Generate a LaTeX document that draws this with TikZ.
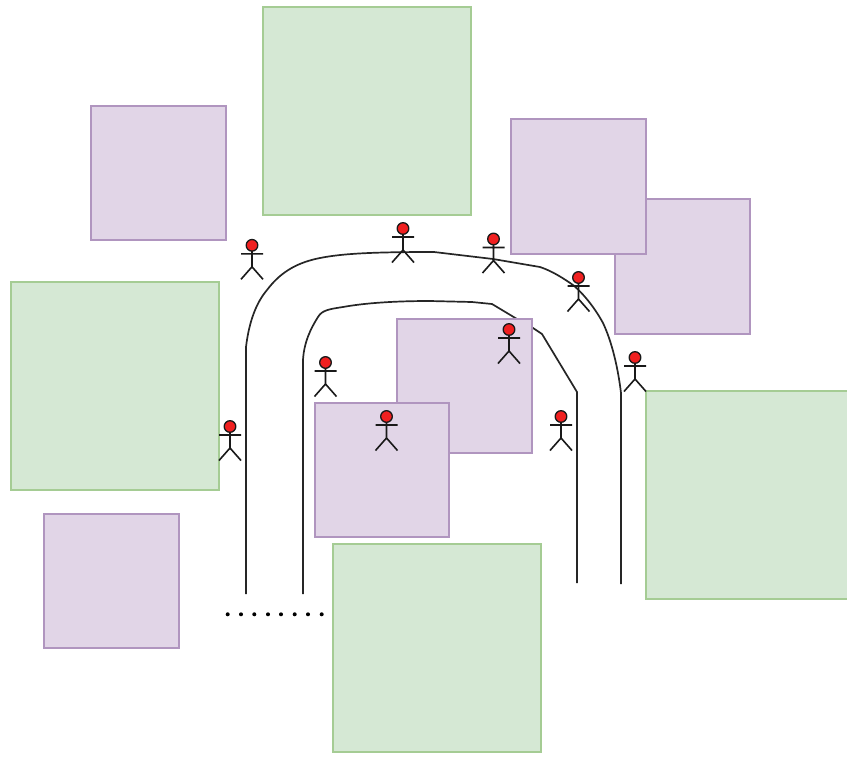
\documentclass[tikz,border=0pt]{standalone}
\tikzset{
  x=1pt,y=-1pt,
  greenzone/.style={draw=gstroke,fill=gfill,line width=2pt,anchor=north west,inner sep=0pt,outer sep=0pt,minimum width=208pt,minimum height=208pt},
  purplezone/.style={draw=pstroke,fill=pfill,line width=2pt,anchor=north west,inner sep=0pt,outer sep=0pt,minimum width=134.5pt,minimum height=134.5pt},
  road/.style={draw=black!85,line width=1.7pt,line join=round},
  person/.pic={
    \draw[black!90,line width=1.6pt,line join=round] (-11,8.5)--(11,8.5) (0,5)--(0,21.5) (-11,34)--(0,21.5)--(11,34);
    \draw[black!90,fill=headred,line width=1.3pt] (0,0) circle[radius=5.8];
  },
  dotmark/.style={fill=black,circle,inner sep=0pt,minimum size=4pt}
}
\definecolor{gfill}{HTML}{D5E8D4}
\definecolor{gstroke}{HTML}{A5CC94}
\definecolor{pfill}{HTML}{E1D5E7}
\definecolor{pstroke}{HTML}{B095BF}
\definecolor{headred}{HTML}{F02020}
\begin{document}
\begin{tikzpicture}
\useasboundingbox (0,0) rectangle (847,756);
\clip (0,0) rectangle (847,756);
% inner road runs beneath the purple block
\draw[road] (303,594)--(303,360) .. controls (304,342) and (311,328) .. (318,317)
  .. controls (322,310) and (330,309) .. (343,307) .. controls (365,303) and (395,301) .. (430,301) -- (472,302) -- (492,304) -- (517,319) -- (533,328) -- (542,334) -- (577,392) -- (577,583);
\draw[road] (303.2,403)--(303.2,427);
\draw[road] (246,594)--(246,347) .. controls (249,322) and (256,303) .. (267,290)
  .. controls (282,270) and (300,262) .. (320,258) .. controls (345,253) and (380,252) .. (434,252) -- (493,259) -- (540,267) .. controls (552,271) and (563,278) .. (573,285)
  .. controls (585,295) and (596,310) .. (603,323) .. controls (612,342) and (618,368) .. (621,393) -- (621,584);
\node[purplezone] (p1) at (91,105.7) {};
\node[greenzone] (g1) at (263,7) {};
\node[purplezone] (p2) at (615,199.2) {};
\node[purplezone] (p3) at (511,119.2) {};
\node[greenzone] (g2) at (11,282) {};
\node[purplezone] (p4) at (397,318.7) {};
\node[purplezone] (p5) at (314.7,402.7) {};
\node[greenzone] (g3) at (333.2,544) {};
\node[greenzone] (g4) at (646,391.2) {};
\node[purplezone] (p6) at (44,513.7) {};
\foreach \x/\y in {252/245.3,403/228.5,493.5/239,578.5/277.5,635/357.5,325.5/362.5,509/329.5,386.5/416.5,561/416.5,230/426.5}
  \pic at (\x,\y) {person};
\foreach \x in {227.7,241,254.3,268,281,294.7,308,321.7}
  \node[dotmark] at (\x,614.3) {};
\end{tikzpicture}
\end{document}
